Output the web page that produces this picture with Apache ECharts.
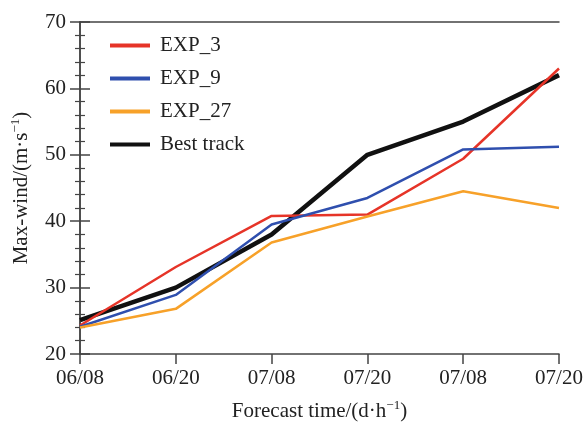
<!DOCTYPE html>
<html>
<head>
<meta charset="utf-8">
<script src="https://cdn.jsdelivr.net/npm/echarts@6/dist/echarts.min.js"></script>
<style>
  html, body { margin: 0; padding: 0; background: #fff; }
  #chart { width: 587px; height: 423px; }
</style>
</head>
<body>
<div id="chart"></div>
<script>
// Forecast times (day/hour)
const categories = ['06/08', '06/20', '07/08', '07/20', '07/08', '07/20'];

// Maximum wind speed, m/s
const exp3 = [24.3, 33.1, 40.8, 41.0, 49.4, 63.0];
const exp9 = [24.1, 28.9, 39.5, 43.5, 50.8, 51.2];
const exp27 = [24.0, 26.8, 36.8, 40.7, 44.5, 42.0];
const bestTrack = [25.1, 30.0, 38.0, 50.0, 55.0, 62.0];

const seriesNames = ['EXP_3', 'EXP_9', 'EXP_27', 'Best track'];
const seriesColors = ['#e63428', '#2f4fae', '#f7a129', '#111111'];

const FONT = '"Liberation Serif", "DejaVu Serif", serif';
const AXIS_COLOR = '#444';
const TEXT_COLOR = '#222';
const FS = 21;

const chart = echarts.init(document.getElementById('chart'));

// Category indices give each forecast time its own position even though labels repeat
const toPairs = arr => arr.map((v, i) => [i, v]);

const dataSets = [exp3, exp9, exp27, bestTrack];
const widths = [2.5, 2.5, 2.5, 4.5];

const supRich = {
  sup: { fontFamily: FONT, fontSize: 13, verticalAlign: 'top', padding: [0, 0, 11, 0], color: TEXT_COLOR }
};

chart.setOption({
  animation: false,
  grid: { left: 80, right: 28, top: 22, bottom: 69, outerBoundsMode: 'none', containLabel: false },
  legend: {
    left: 105,
    top: 30,
    orient: 'vertical',
    itemWidth: 40,
    itemHeight: 14,
    itemGap: 12,
    icon: 'path://M0,6 L40,6 L40,10 L0,10 Z',
    data: seriesNames,
    textStyle: { fontFamily: FONT, fontSize: FS, color: TEXT_COLOR, padding: [0, 0, 0, 5] }
  },
  xAxis: [
    {
      type: 'value',
      min: 0,
      max: categories.length - 1,
      interval: 1,
      position: 'bottom',
      name: 'Forecast time/(d·h{sup|−1})',
      nameLocation: 'middle',
      nameGap: 45,
      nameTextStyle: { fontFamily: FONT, fontSize: FS, color: TEXT_COLOR, rich: supRich },
      axisLine: { lineStyle: { color: AXIS_COLOR, width: 1.5 } },
      axisTick: { show: true, inside: false, length: 10, lineStyle: { color: AXIS_COLOR, width: 1.5 } },
      axisLabel: {
        fontFamily: FONT, fontSize: FS, color: TEXT_COLOR, margin: 14,
        formatter: v => categories[Math.round(v)]
      },
      splitLine: { show: false }
    },
    {
      type: 'value',
      min: 0,
      max: categories.length - 1,
      position: 'top',
      axisLine: { show: true, lineStyle: { color: AXIS_COLOR, width: 1.5 } },
      axisTick: { show: false },
      axisLabel: { show: false },
      splitLine: { show: false }
    }
  ],
  yAxis: [
    {
      type: 'value',
      min: 20,
      max: 70,
      interval: 10,
      position: 'left',
      name: 'Max-wind/(m·s{sup|−1})',
      nameLocation: 'middle',
      nameRotate: 90,
      nameGap: 47,
      nameTextStyle: { fontFamily: FONT, fontSize: FS, color: TEXT_COLOR, rich: supRich },
      axisLine: { show: true, lineStyle: { color: AXIS_COLOR, width: 1.5 } },
      axisTick: { show: true, inside: false, length: 10, lineStyle: { color: AXIS_COLOR, width: 1.5 } },
      minorTick: { show: true, splitNumber: 5, length: 5, lineStyle: { color: AXIS_COLOR, width: 1.2 } },
      axisLabel: { fontFamily: FONT, fontSize: FS, color: TEXT_COLOR, margin: 14 },
      splitLine: { show: false }
    },
    {
      type: 'value',
      min: 20,
      max: 70,
      interval: 10,
      position: 'right',
      axisLine: { show: true, lineStyle: { color: AXIS_COLOR, width: 1.5 } },
      axisTick: { show: true, inside: false, length: 10, lineStyle: { color: AXIS_COLOR, width: 1.5 } },
      minorTick: { show: true, splitNumber: 5, length: 5, lineStyle: { color: AXIS_COLOR, width: 1.2 } },
      axisLabel: { show: false },
      splitLine: { show: false }
    }
  ],
  series: seriesNames.map((name, k) => ({
    name,
    type: 'line',
    xAxisIndex: 0,
    yAxisIndex: 0,
    data: toPairs(dataSets[k]),
    symbol: 'none',
    color: seriesColors[k],
    lineStyle: { color: seriesColors[k], width: widths[k] },
    z: k === 3 ? 1 : 2
  }))
});
</script>
</body>
</html>
